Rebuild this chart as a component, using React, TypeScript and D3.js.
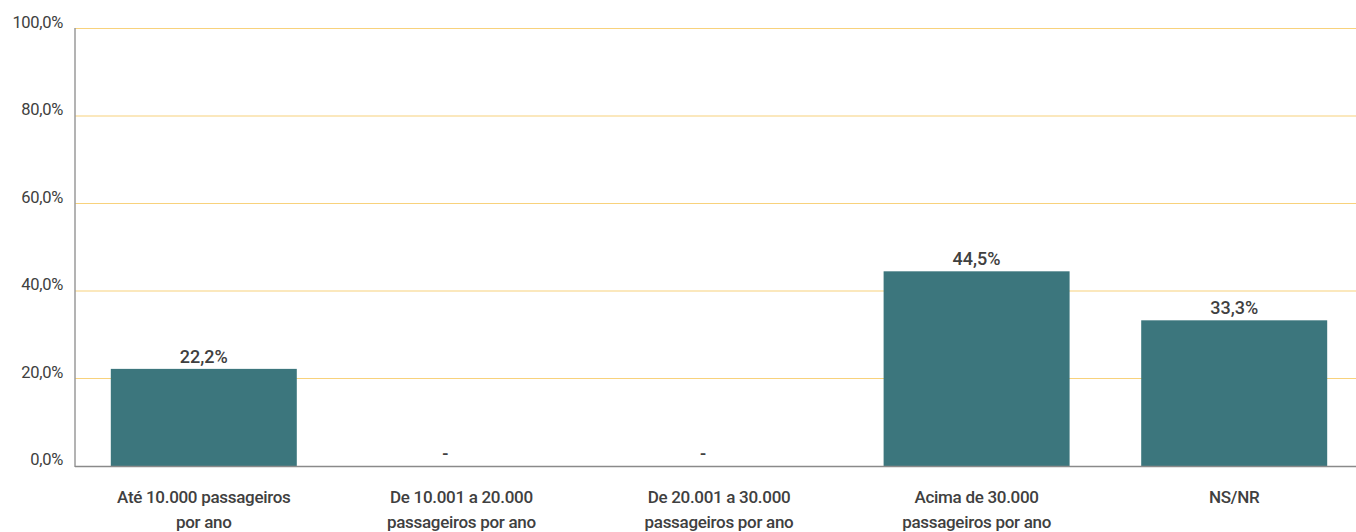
import React from "react";
import * as d3 from "d3";

const categories: string[][] = [
  ["Até 10.000 passageiros", "por ano"],
  ["De 10.001 a 20.000", "passageiros por ano"],
  ["De 20.001 a 30.000", "passageiros por ano"],
  ["Acima de 30.000", "passageiros por ano"],
  ["NS/NR"],
];
const values: number[] = [22.2, 0, 0, 44.5, 33.3];
const yTicks: number[] = [0, 20, 40, 60, 80, 100];

const W = 1356;
const H = 532;
const FONT = "'Roboto', sans-serif";

const fmt = (v: number) => v.toFixed(1).replace(".", ",") + "%";

export default function App() {
  const x = d3
    .scaleBand<number>()
    .domain(values.map((_, i) => i))
    .range([75, 1363])
    .paddingInner(0.278)
    .paddingOuter(0.139);
  const y = d3.scaleLinear().domain([0, 100]).range([466, 28.5]);

  return (
    <svg
      width={W}
      height={H}
      style={{ position: "absolute", left: 0, top: 0, display: "block", background: "#fff" }}
      fontFamily={FONT}
    >
      {yTicks.map((t) => (
        <g key={t}>
          {t > 0 && (
            <line x1={75} x2={W} y1={y(t)} y2={y(t)} stroke="#F8D27C" strokeWidth={1.2} />
          )}
          <text x={63} y={y(t)} dy="-0.05em" textAnchor="end" fontSize={16.5} fill="#404040" letterSpacing={-0.3}>
            {fmt(t)}
          </text>
        </g>
      ))}
      {values.map((v, i) => (
        <g key={i}>
          {v > 0 && (
            <rect
              x={x(i)}
              y={y(v)}
              width={x.bandwidth()}
              height={y(0) - y(v)}
              fill="#3C767D"
            />
          )}
          <text
            x={(x(i) as number) + x.bandwidth() / 2 + (v > 0 ? 0 : -16)}
            y={v > 0 ? y(v) - 6 : y(0) - 6}
            textAnchor="middle"
            fontSize={18}
            fontWeight={500}
            fill="#404040"
          >
            {v > 0 ? fmt(v) : "-"}
          </text>
          {categories[i].map((line, j) => (
            <text
              key={j}
              x={(x(i) as number) + x.bandwidth() / 2}
              y={503 + j * 25}
              textAnchor="middle"
              fontSize={17}
              fontWeight={500}
              letterSpacing={-0.3}
              fill="#404040"
            >
              {line}
            </text>
          ))}
        </g>
      ))}
      <line x1={75} x2={75} y1={28} y2={467} stroke="#9A9A9A" strokeWidth={1.5} />
      <line x1={75} x2={W} y1={466.5} y2={466.5} stroke="#8A8A8A" strokeWidth={1.5} />
    </svg>
  );
}
